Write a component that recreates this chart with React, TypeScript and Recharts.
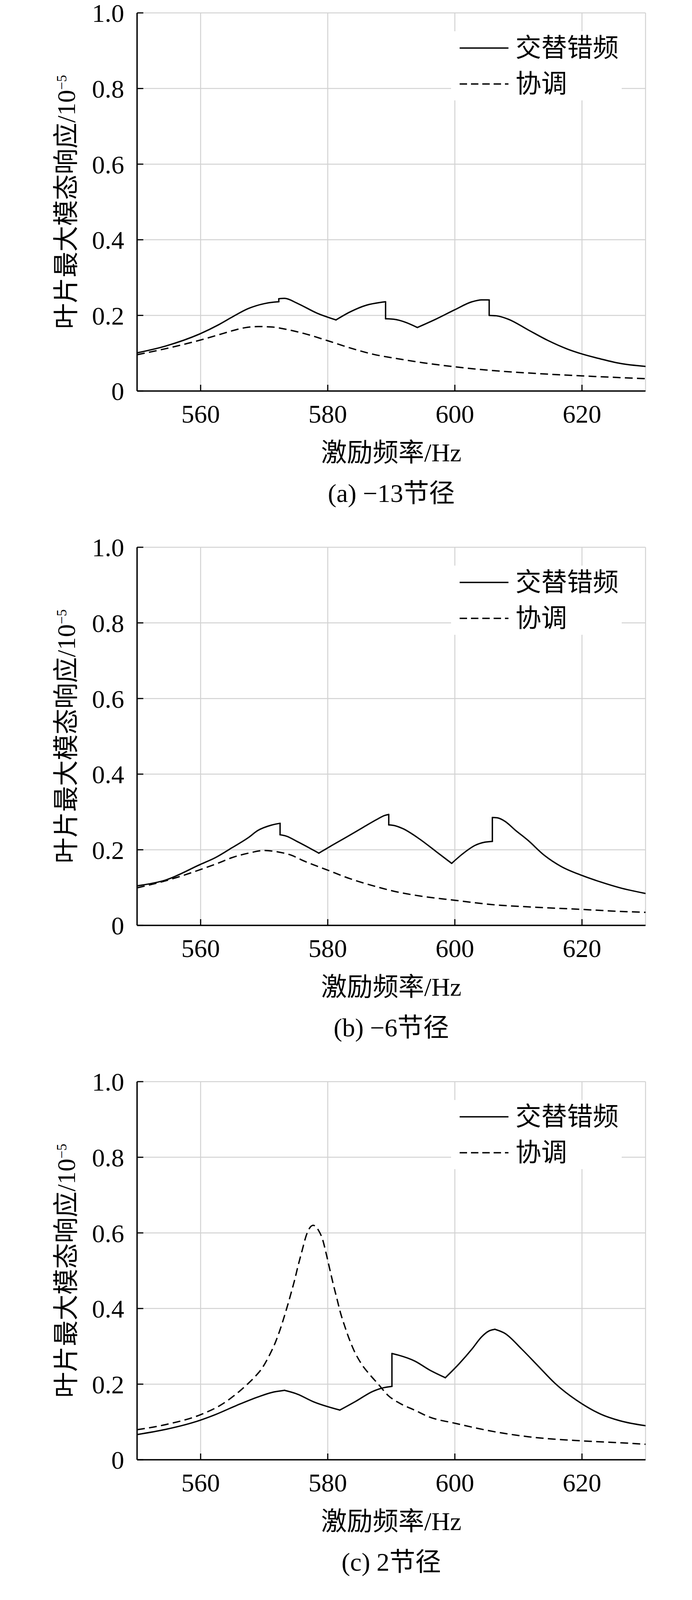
import { LineChart, Line, XAxis, YAxis, CartesianGrid, Legend } from "recharts";

type Pt = [number, number];

const freqTicks = [560, 580, 600, 620];
const respTicks = [0, 0.2, 0.4, 0.6, 0.8, 1.0];
const seriesNames = ["交替错频", "协调"];
const captions = ["(a) −13节径", "(b) −6节径", "(c) 2节径", "(d) 9节径"];

// 交替错频: pieces split where the curve jumps or turns at a corner
const staggerA: Pt[][] = [
  [[550, 0.101], [554.5, 0.119], [560, 0.152], [562.8, 0.175], [564.9, 0.195], [567.5, 0.218], [570, 0.231], [571.5, 0.235], [572.3, 0.236]],
  [[572.3, 0.244], [573.2, 0.245], [575.2, 0.232], [578.3, 0.206], [581.3, 0.188]],
  [[581.3, 0.188], [583.5, 0.209], [586.1, 0.227], [588.2, 0.234], [589.1, 0.236]],
  [[589.1, 0.191], [590.7, 0.189], [592.2, 0.182], [594.1, 0.168]],
  [[594.1, 0.168], [597, 0.19], [600, 0.215], [602.7, 0.236], [604.2, 0.241], [605.4, 0.241]],
  [[605.4, 0.2], [606.5, 0.199], [608.4, 0.19], [611.5, 0.162], [614.6, 0.134], [617.7, 0.111], [620, 0.098], [622.9, 0.085], [626, 0.073], [630, 0.065]],
];
// 协调
const tunedA: Pt[] = [
  [550, 0.096], [554.5, 0.112], [560, 0.135], [562.8, 0.1485], [564.9, 0.159], [567, 0.1675], [569, 0.1705], [571.1, 0.1695],
  [573.2, 0.164], [576.3, 0.152], [580, 0.133], [583.5, 0.114], [587.2, 0.097], [590.8, 0.086], [594.9, 0.075], [600, 0.064],
  [606.3, 0.0536], [611.5, 0.0477], [620, 0.04], [626, 0.0355], [630, 0.0327],
];

const staggerB: Pt[][] = [
  [[550, 0.1045], [554.5, 0.12], [560, 0.1616], [562.3, 0.179], [564.9, 0.205], [567.5, 0.232], [569, 0.251], [571.1, 0.265], [572.5, 0.27]],
  [[572.5, 0.2396], [573.5, 0.236], [575.2, 0.2217], [577.3, 0.203], [578.6, 0.191]],
  [[578.6, 0.191], [580.4, 0.209], [583, 0.234], [585.6, 0.2596], [587.7, 0.28], [589, 0.291], [589.6, 0.2933]],
  [[589.6, 0.2658], [590.5, 0.264], [591.8, 0.256], [594.4, 0.229], [597, 0.196], [599.5, 0.164]],
  [[599.5, 0.164], [601.1, 0.1875], [603.2, 0.2118], [604.7, 0.22], [605.9, 0.2222]],
  [[605.9, 0.2854], [606.8, 0.284], [607.9, 0.275], [609.5, 0.252], [611.5, 0.225], [614.1, 0.185], [616.7, 0.156], [620, 0.132], [622.9, 0.115], [626, 0.0993], [630, 0.0845]],
];
const tunedB: Pt[] = [
  [550, 0.0993], [554.5, 0.118], [560, 0.1478], [562.8, 0.165], [564.9, 0.179], [567.5, 0.191], [570, 0.198], [572.1, 0.1945],
  [574.2, 0.186], [576.3, 0.17], [580, 0.146], [583.5, 0.1235], [587.2, 0.1045], [590.8, 0.0889], [594.9, 0.0768], [600, 0.0664],
  [606.3, 0.0543], [611.5, 0.0491], [620, 0.0422], [626, 0.037], [630, 0.0346],
];

const staggerC: Pt[][] = [
  [[550, 0.0667], [554.5, 0.0803], [559.1, 0.1], [562.4, 0.12], [565.7, 0.144], [569, 0.166], [571.2, 0.178], [573.2, 0.1836]],
  [[573.2, 0.1836], [575, 0.175], [577.8, 0.153], [581.9, 0.1314]],
  [[581.9, 0.1314], [584.45, 0.155], [587.1, 0.181], [588.9, 0.191], [590.1, 0.194]],
  [[590.1, 0.281], [591.06, 0.277], [593.7, 0.261], [596, 0.2376], [598.5, 0.217]],
  [[598.5, 0.217], [600.6, 0.2526], [602.7, 0.293], [604.2, 0.325], [605.3, 0.34], [606.3, 0.345]],
  [[606.3, 0.345], [607.9, 0.334], [610.5, 0.293], [613.1, 0.248], [615.7, 0.203], [620, 0.148], [622.9, 0.121], [626, 0.103], [630, 0.09]],
];
const tunedC: Pt[] = [
  [550, 0.0795], [554.5, 0.093], [560.4, 0.122], [563.1, 0.144], [565.3, 0.17], [567.05, 0.195], [568.4, 0.217], [569.7, 0.243],
  [570.8, 0.2756], [571.8, 0.312], [572.6, 0.349], [573.2, 0.381], [573.8, 0.415], [574.3, 0.445], [574.8, 0.476], [575.3, 0.511],
  [575.9, 0.549], [576.7, 0.597], [577.2, 0.614], [577.7, 0.62], [578.1, 0.617], [578.5, 0.608], [579.2, 0.582], [579.8, 0.542],
  [580.4, 0.498], [580.9, 0.462], [581.4, 0.429], [582, 0.389], [582.7, 0.352], [583.3, 0.323], [584.2, 0.2865], [585.3, 0.2536],
  [586.65, 0.2245], [588, 0.199], [589.5, 0.17], [591.1, 0.1515], [593.7, 0.131], [596, 0.113], [600, 0.0966], [606.3, 0.074],
  [611.5, 0.061], [620, 0.05], [626, 0.045], [630, 0.041],
];

const staggerD: Pt[][] = [
  [[550, 0.0729], [554.5, 0.0919], [560, 0.123], [562.8, 0.147], [564.9, 0.17], [567.5, 0.199], [569, 0.213], [570, 0.218]],
  [[570.1, 0.223], [570.6, 0.2225], [572.6, 0.206], [575.2, 0.1765], [578.6, 0.1437]],
  [[578.6, 0.1437], [580.4, 0.152], [583, 0.164], [585.1, 0.172], [586.3, 0.1727]],
  [[586.3, 0.149], [588.7, 0.164], [590.8, 0.178], [593.4, 0.197], [596, 0.221], [598.6, 0.247], [600.7, 0.2698], [602.2, 0.278], [602.8, 0.278]],
  [[602.8, 0.251], [604.2, 0.249], [606.3, 0.237], [608.9, 0.209], [611.5, 0.178], [614.6, 0.1437], [616.7, 0.126], [620, 0.1074], [622.9, 0.0953], [626, 0.085], [630, 0.0746]],
];
const tunedD: Pt[] = [
  [550, 0.0936], [554.5, 0.111], [560, 0.1454], [562.8, 0.171], [564.9, 0.1955], [567.5, 0.2335], [570, 0.259], [572.4, 0.266],
  [574.2, 0.263], [576.3, 0.244], [578.3, 0.216], [580.4, 0.192], [583, 0.164], [585.6, 0.142], [588.7, 0.1195], [592.3, 0.0988],
  [596, 0.0832], [600, 0.0729], [606.3, 0.0608], [611.5, 0.0539], [620, 0.0452], [626, 0.0394], [630, 0.0359],
];

const panels = [
  { caption: captions[0], solid: staggerA, dashed: tunedA },
  { caption: captions[1], solid: staggerB, dashed: tunedB },
  { caption: captions[2], solid: staggerC, dashed: tunedC },
  { caption: captions[3], solid: staggerD, dashed: tunedD },
];

const FONT = '"Liberation Serif", "Times New Roman", "Noto Sans CJK SC", serif';
const W = 1756;
const H = 1200;
const PANEL_H = 1368;
const DASH = "20 11";
const LINE_W = 3.5;

const axisLine = { stroke: "#000", strokeWidth: 3.5 };
const tickLine = { stroke: "#000", strokeWidth: 3 };
const tickText = { fill: "#000", fontSize: 66, fontFamily: FONT };

const toRows = (pts: Pt[]) => pts.map(([f, v]) => ({ f, v }));
const fmtResp = (v: number) => (v === 0 ? "0" : v.toFixed(1));

function LegendBox() {
  return (
    <div style={{ position: "relative", width: 437, height: 177, background: "#fff", fontFamily: FONT, fontSize: 66, color: "#000" }}>
      {seriesNames.map((name, i) => (
        <div key={name} style={{ position: "absolute", left: 22, top: 10 + i * 92, height: 66, display: "flex", alignItems: "center" }}>
          <svg width={125} height={10}>
            <line x1={0} y1={5} x2={125} y2={5} stroke="#000" strokeWidth={LINE_W} strokeDasharray={i === 1 ? "19 10" : undefined} />
          </svg>
          <span style={{ marginLeft: 18, lineHeight: "66px", whiteSpace: "nowrap" }}>{name}</span>
        </div>
      ))}
    </div>
  );
}

function Panel({ caption, solid, dashed, height }: { caption: string; solid: Pt[][]; dashed: Pt[]; height: number }) {
  // vertical jumps between consecutive pieces
  const jumps = solid
    .slice(1)
    .map((seg, i) => [solid[i][solid[i].length - 1], seg[0]] as Pt[])
    .filter(([a, b]) => a[1] !== b[1]);

  return (
    <div style={{ position: "relative", width: W, height }}>
      <LineChart width={W} height={H} margin={{ top: 25, right: 111, left: 0, bottom: 127 }}>
        <CartesianGrid stroke="#d2d2d2" strokeWidth={2.5} />
        <XAxis
          type="number"
          dataKey="f"
          domain={[550, 630]}
          ticks={freqTicks}
          interval={0}
          allowDataOverflow
          height={80}
          tickSize={-16}
          tickMargin={50}
          tick={tickText}
          axisLine={axisLine}
          tickLine={tickLine}
          label={{ value: "激励频率/Hz", position: "bottom", offset: 53, fill: "#000", fontSize: 66, fontFamily: FONT }}
        />
        <XAxis xAxisId="top" orientation="top" type="number" domain={[550, 630]} ticks={freqTicks} interval={0} height={0} tick={false} tickSize={-16} axisLine={axisLine} tickLine={tickLine} />
        <YAxis
          type="number"
          domain={[0, 1]}
          ticks={respTicks}
          interval={0}
          allowDataOverflow
          width={343}
          tickSize={-16}
          tickMargin={49}
          tickFormatter={fmtResp}
          tick={tickText}
          axisLine={axisLine}
          tickLine={tickLine}
        />
        <YAxis yAxisId="right" orientation="right" type="number" domain={[0, 1]} ticks={respTicks} interval={0} width={0} tick={false} tickSize={-16} axisLine={axisLine} tickLine={tickLine} />
        <Line
          data={toRows(dashed)}
          dataKey="v"
          type="monotone"
          stroke="#000"
          strokeWidth={LINE_W}
          strokeDasharray={DASH}
          dot={false}
          activeDot={false}
          isAnimationActive={false}
        />
        {solid.map((seg, i) => (
          <Line
            key={`seg-${i}`}
            data={toRows(seg)}
            dataKey="v"
            type="monotone"
            stroke="#000"
            strokeWidth={LINE_W}
            strokeLinecap="round"
            dot={false}
            activeDot={false}
            isAnimationActive={false}
          />
        ))}
        {jumps.map((pair, i) => (
          <Line
            key={`jump-${i}`}
            data={toRows(pair)}
            dataKey="v"
            type="linear"
            stroke="#000"
            strokeWidth={LINE_W}
            strokeLinecap="round"
            dot={false}
            activeDot={false}
            isAnimationActive={false}
          />
        ))}
        <Legend
          content={<LegendBox />}
          layout="horizontal"
          verticalAlign="middle"
          align="center"
          wrapperStyle={{ left: 1147, top: 72, width: 437, height: 177 }}
        />
      </LineChart>
      <div
        style={{
          position: "absolute",
          left: 162,
          top: 509,
          transform: "translate(-50%, -50%) rotate(-90deg)",
          whiteSpace: "nowrap",
          fontFamily: FONT,
          fontSize: 66,
          lineHeight: "66px",
          color: "#000",
        }}
      >
        叶片最大模态响应/10<span style={{ fontSize: 36, verticalAlign: "22px", lineHeight: 0 }}>−5</span>
      </div>
      <div
        style={{
          position: "absolute",
          left: 343,
          width: 1302,
          top: 1222,
          textAlign: "center",
          fontFamily: FONT,
          fontSize: 66,
          lineHeight: "66px",
          color: "#000",
          whiteSpace: "nowrap",
        }}
      >
        {caption}
      </div>
    </div>
  );
}

export default function App() {
  return (
    <div style={{ width: W, background: "#fff", fontFamily: FONT }}>
      <style>{"svg.recharts-surface { overflow: visible; }"}</style>
      {panels.map((p, i) => (
        <Panel key={p.caption} caption={p.caption} solid={p.solid} dashed={p.dashed} height={i === panels.length - 1 ? 5409 - 16 - PANEL_H * 3 : PANEL_H} />
      ))}
    </div>
  );
}
